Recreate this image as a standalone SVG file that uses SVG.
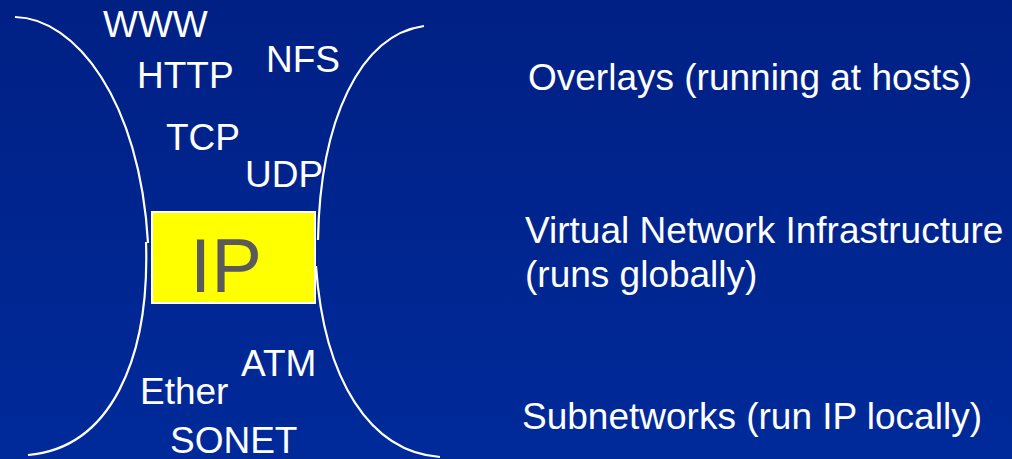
<svg xmlns="http://www.w3.org/2000/svg" width="1012" height="459" viewBox="0 0 1012 459">
  <defs>
    <linearGradient id="bg" x1="0" y1="0" x2="0" y2="1">
      <stop offset="0" stop-color="#002084"/>
      <stop offset="1" stop-color="#002a9a"/>
    </linearGradient>
    <style>
      .curve { fill: none; stroke: #ffffff; stroke-width: 2.2; }
      .lbl { font-family: "Liberation Sans", Arial, sans-serif; font-size: 37px; fill: #ffffff; }
      .ip { font-family: "Liberation Sans", Arial, sans-serif; font-size: 76px; fill: #5a5a5a; }
    </style>
  </defs>

  <rect width="1012" height="459" fill="url(#bg)"/>

  <!-- hourglass outline -->
  <g id="connectors">
    <path class="curve" d="M15,17 C75,18 140,100 148,243"/>
    <path class="curve" d="M424,26 C360,35 320,120 318,240"/>
    <path class="curve" d="M146,242 C150,360 110,448 28,455"/>
    <path class="curve" d="M316,266 C324,380 370,452 440,457"/>
  </g>

  <!-- upper layers -->
  <g id="www"><text class="lbl" x="103" y="37">WWW</text></g>
  <g id="http"><text class="lbl" x="137" y="88">HTTP</text></g>
  <g id="nfs"><text class="lbl" x="266" y="72">NFS</text></g>
  <g id="tcp"><text class="lbl" x="166" y="150">TCP</text></g>
  <g id="udp"><text class="lbl" x="245" y="187">UDP</text></g>

  <!-- narrow waist -->
  <g id="ip">
    <rect x="152" y="212" width="163" height="91" fill="#ffff00" stroke="#ffffff" stroke-width="2"/>
    <text class="ip" x="226" y="292" text-anchor="middle">IP</text>
  </g>

  <!-- lower layers -->
  <g id="atm"><text class="lbl" x="241" y="376">ATM</text></g>
  <g id="ether"><text class="lbl" x="140" y="404">Ether</text></g>
  <g id="sonet"><text class="lbl" x="170" y="453">SONET</text></g>

  <!-- descriptions -->
  <g id="overlays"><text class="lbl" x="528" y="90">Overlays (running at hosts)</text></g>
  <g id="virtual">
    <text class="lbl" x="525" y="243">Virtual Network Infrastructure</text>
    <text class="lbl" x="525" y="287">(runs globally)</text>
  </g>
  <g id="subnetworks"><text class="lbl" x="522" y="429">Subnetworks (run IP locally)</text></g>
</svg>
